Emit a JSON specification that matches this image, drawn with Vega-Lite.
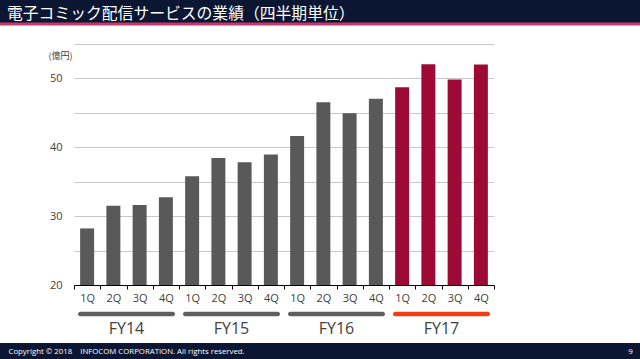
{
  "$schema": "https://vega.github.io/schema/vega-lite/v6.json",
  "width": 640,
  "height": 319,
  "autosize": {"type": "none"},
  "padding": {"left": 0, "right": 0, "top": 24, "bottom": 16},
  "background": "#0b1632",
  "config": {
    "view": {"fill": "white", "stroke": "#c8376a", "strokeWidth": 3, "strokeDash": [640, 3000]},
    "font": "Open Sans"
  },
  "title": {
    "text": "電子コミック配信サービスの業績（四半期単位）",
    "anchor": "start",
    "frame": "group",
    "color": "white",
    "fontSize": 15.8,
    "font": "Noto Sans CJK JP",
    "fontWeight": "normal",
    "baseline": "middle",
    "offset": 10,
    "dy": 16,
    "dx": 7
  },
  "datasets": {
    "quarters": [
      {"key": "FY14-1Q", "fy": "FY14", "value": 28.2},
      {"key": "FY14-2Q", "fy": "FY14", "value": 31.5},
      {"key": "FY14-3Q", "fy": "FY14", "value": 31.6},
      {"key": "FY14-4Q", "fy": "FY14", "value": 32.7},
      {"key": "FY15-1Q", "fy": "FY15", "value": 35.75},
      {"key": "FY15-2Q", "fy": "FY15", "value": 38.4},
      {"key": "FY15-3Q", "fy": "FY15", "value": 37.8},
      {"key": "FY15-4Q", "fy": "FY15", "value": 38.9},
      {"key": "FY16-1Q", "fy": "FY16", "value": 41.6},
      {"key": "FY16-2Q", "fy": "FY16", "value": 46.5},
      {"key": "FY16-3Q", "fy": "FY16", "value": 44.9},
      {"key": "FY16-4Q", "fy": "FY16", "value": 47.0},
      {"key": "FY17-1Q", "fy": "FY17", "value": 48.65},
      {"key": "FY17-2Q", "fy": "FY17", "value": 52.0},
      {"key": "FY17-3Q", "fy": "FY17", "value": 49.8},
      {"key": "FY17-4Q", "fy": "FY17", "value": 51.95}
    ],
    "years": [
      {"fy": "FY14"},
      {"fy": "FY15"},
      {"fy": "FY16"},
      {"fy": "FY17"}
    ]
  },
  "layer": [
    {
      "data": {"name": "quarters"},
      "mark": {"type": "bar", "width": {"band": 0.533}},
      "encoding": {
        "x": {
          "field": "key",
          "type": "nominal",
          "sort": null,
          "scale": {"type": "band", "range": [74, 494], "paddingInner": 0, "paddingOuter": 0},
          "axis": {
            "orient": "bottom",
            "offset": -58,
            "labelExpr": "split(datum.label, '-')[1]",
            "tickBand": "extent",
            "tickSize": 4,
            "tickColor": "#000000",
            "domainColor": "#000000",
            "domainWidth": 1,
            "labelAngle": 0,
            "labelPadding": 3,
            "labelFontSize": 11,
            "labelColor": "#404040",
            "grid": false,
            "title": "Copyright © 2018\u00a0\u00a0\u00a0\u00a0INFOCOM CORPORATION. All rights reserved.",
            "titleX": 8,
            "titleY": 66.7,
            "titleAlign": "left",
            "titleAnchor": "start",
            "titleBaseline": "middle",
            "titleColor": "white",
            "titleFontSize": 7.8,
            "titleFontWeight": "normal"
          }
        },
        "y": {
          "field": "value",
          "type": "quantitative",
          "scale": {"domain": [20, 55], "range": [261, 19.5], "zero": false, "nice": false},
          "axis": {
            "orient": "left",
            "offset": -74,
            "values": [20, 25, 30, 35, 40, 45, 50, 55],
            "labelExpr": "datum.value % 10 === 0 ? datum.label : ''",
            "domain": false,
            "ticks": false,
            "grid": true,
            "gridColor": "#c8c8c8",
            "gridWidth": 1.2,
            "labelPadding": 12,
            "labelFontSize": 11,
            "labelColor": "#404040",
            "title": "(億円)",
            "titleAngle": 0,
            "titleAlign": "left",
            "titleBaseline": "middle",
            "titleX": -26,
            "titleY": 31.5,
            "titleFontSize": 9,
            "titleFont": "Noto Sans CJK JP",
            "titleFontWeight": "normal",
            "titleColor": "#404040"
          }
        },
        "y2": {"datum": 20},
        "color": {
          "condition": {"test": "datum.fy === 'FY17'", "value": "#9c0a35"},
          "value": "#595959"
        }
      }
    },
    {
      "data": {"name": "years"},
      "mark": {"type": "bar", "cornerRadius": 2.3},
      "encoding": {
        "x": {
          "field": "fy",
          "type": "nominal",
          "scale": {"type": "band", "range": [74, 494], "paddingInner": 0.076, "paddingOuter": 0.038},
          "axis": null
        },
        "y": {"datum": 16.13, "axis": null},
        "y2": {"datum": 15.47},
        "color": {
          "condition": {"test": "datum.fy === 'FY17'", "value": "#f23c16"},
          "value": "#5f5f5f"
        }
      }
    },
    {
      "data": {"name": "years"},
      "mark": {"type": "text", "fontSize": 16, "color": "#404040", "baseline": "middle", "font": "Open Sans"},
      "encoding": {
        "x": {
          "field": "fy",
          "type": "nominal",
          "scale": {"type": "band", "range": [74, 494], "paddingInner": 0.076, "paddingOuter": 0.038},
          "axis": null
        },
        "y": {
          "datum": 13.62,
          "axis": {
            "orient": "right",
            "domain": false,
            "ticks": false,
            "labels": false,
            "grid": false,
            "title": "9",
            "titleAngle": 0,
            "titleX": -10,
            "titleY": 327.7,
            "titleAlign": "center",
            "titleBaseline": "middle",
            "titleColor": "white",
            "titleFontSize": 8,
            "titleFontWeight": "normal"
          }
        },
        "text": {"field": "fy"}
      }
    }
  ],
  "resolve": {"scale": {"x": "independent"}, "axis": {"y": "independent"}}
}
